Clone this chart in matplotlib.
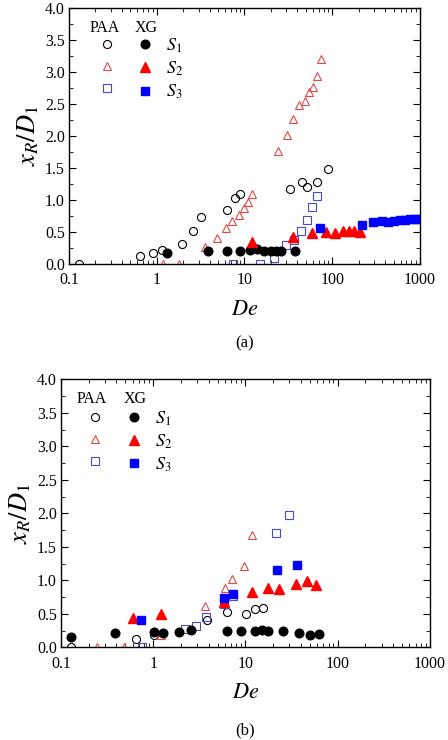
import numpy as np
import matplotlib
matplotlib.use("Agg")
from matplotlib import pyplot as plt
from matplotlib.ticker import MultipleLocator, LogLocator, FixedLocator, NullFormatter

plt.rcParams['font.family'] = ['Liberation Serif', 'DejaVu Serif']
plt.rcParams['mathtext.fontset'] = 'stix'

# ---- panel (a) data ----
a_paa_s1_x = [0.13, 0.64, 0.90, 1.16, 1.92, 2.57, 3.19, 6.4, 7.8, 8.9, 33, 45, 51, 67, 89]
a_paa_s1_y = [0.0, 0.12, 0.18, 0.22, 0.32, 0.52, 0.73, 0.85, 1.03, 1.09, 1.18, 1.28, 1.21, 1.28, 1.48]
a_xg_s1_x = [1.3, 3.86, 6.4, 8.9, 11.6, 14.0, 16.8, 19.9, 22.8, 26.1, 37.6]
a_xg_s1_y = [0.18, 0.20, 0.20, 0.21, 0.22, 0.23, 0.21, 0.20, 0.20, 0.20, 0.20]
a_paa_s2_x = [1.19, 1.79, 3.55, 4.82, 6.1, 7.2, 8.65, 9.86, 11.0, 12.1,
              24.3, 30.3, 36, 41.8, 48.5, 54.3, 60.4, 67, 73.8]
a_paa_s2_y = [0.0, 0.0, 0.27, 0.41, 0.57, 0.67, 0.77, 0.88, 0.97, 1.09,
              1.77, 2.02, 2.26, 2.48, 2.54, 2.69, 2.76, 2.94, 3.21]
a_xg_s2_x = [12.1, 36, 59.3, 84, 107, 131, 155, 177, 207]
a_xg_s2_y = [0.34, 0.42, 0.49, 0.50, 0.49, 0.52, 0.52, 0.52, 0.50]
a_paa_s3_x = [7.45, 15, 21.9, 29.4, 37, 44, 52, 59.3, 66.5]
a_paa_s3_y = [0.0, 0.0, 0.09, 0.29, 0.37, 0.52, 0.69, 0.89, 1.06]
a_xg_s3_x = [72.4, 220, 294, 366, 435, 510, 591, 675, 769, 877, 955]
a_xg_s3_y = [0.56, 0.61, 0.65, 0.67, 0.65, 0.68, 0.69, 0.69, 0.70, 0.70, 0.70]

# ---- panel (b) data ----
b_paa_s1_x = [0.129, 0.645, 1.02, 3.84, 6.37, 10.2, 12.8, 15.5]
b_paa_s1_y = [0.0, 0.12, 0.19, 0.40, 0.52, 0.49, 0.57, 0.59]
b_xg_s1_x = [0.129, 0.385, 1.02, 1.28, 1.91, 2.54, 6.37, 8.87, 12.6, 15.1, 17.7, 25.4, 37.9, 50.3, 63.4]
b_xg_s1_y = [0.16, 0.22, 0.23, 0.22, 0.23, 0.26, 0.25, 0.25, 0.25, 0.26, 0.25, 0.25, 0.22, 0.18, 0.20]
b_paa_s2_x = [0.244, 0.486, 1.21, 3.62, 6.06, 7.2, 9.63, 11.9]
b_paa_s2_y = [0.0, 0.0, 0.18, 0.61, 0.89, 1.02, 1.22, 1.68]
b_xg_s2_x = [0.6, 1.21, 5.85, 11.9, 17.5, 23.4, 34.9, 46.7, 58.4]
b_xg_s2_y = [0.44, 0.49, 0.68, 0.82, 0.88, 0.87, 0.94, 0.99, 0.93]
b_paa_s3_x = [0.75, 2.24, 2.94, 3.78, 5.85, 7.33, 21.6, 29.3]
b_paa_s3_y = [0.0, 0.27, 0.32, 0.45, 0.65, 0.76, 1.70, 1.98]
b_xg_s3_x = [0.74, 5.85, 7.33, 21.9, 36]
b_xg_s3_y = [0.40, 0.74, 0.79, 1.15, 1.23]

red_open = '#e04848'
blue_open = '#4848c8'
ms = 5.8


def draw_panel(ax, d, tag, hdr):
    (p1x, p1y, x1x, x1y, p2x, p2y, x2x, x2y, p3x, p3y, x3x, x3y) = d
    h_o1, = ax.plot(p1x, p1y, 'o', mfc='none', mec='black', mew=0.8, ms=ms, ls='none')
    h_o2, = ax.plot(p2x, p2y, '^', mfc='none', mec=red_open, mew=0.8, ms=ms + 0.6, ls='none')
    h_o3, = ax.plot(p3x, p3y, 's', mfc='none', mec=blue_open, mew=0.8, ms=ms - 0.6, ls='none')
    h_f1, = ax.plot(x1x, x1y, 'o', color='black', ms=ms + 0.4, ls='none')
    h_f2, = ax.plot(x2x, x2y, '^', color='#ff0000', ms=ms + 0.8, ls='none')
    h_f3, = ax.plot(x3x, x3y, 's', color='#0000ff', ms=ms - 0.4, ls='none')

    ax.set_xscale('log')
    ax.set_xlim(0.1, 1000)
    ax.set_ylim(0, 4.0)
    ax.xaxis.set_major_locator(FixedLocator([0.1, 1, 10, 100, 1000]))
    ax.set_xticklabels(['0.1', '1', '10', '100', '1000'])
    ax.xaxis.set_minor_locator(LogLocator(base=10, subs=np.arange(2, 10)))
    ax.xaxis.set_minor_formatter(NullFormatter())
    ax.yaxis.set_major_locator(MultipleLocator(0.5))
    ax.yaxis.set_minor_locator(MultipleLocator(0.25))
    ax.yaxis.set_major_formatter(matplotlib.ticker.FormatStrFormatter('%.1f'))
    ax.tick_params(which='both', direction='in', top=True, right=True, labelsize=11.5)
    ax.tick_params(axis='x', which='major', pad=6)
    ax.tick_params(axis='y', which='major', pad=3)
    ax.tick_params(which='major', length=5)
    ax.tick_params(which='minor', length=2.8)
    for s in ax.spines.values():
        s.set_linewidth(1.0)
    ax.set_xlabel('$De$', fontsize=16, labelpad=9)
    ax.set_ylabel('$x_R/D_1$', fontsize=19, labelpad=3)

    ax.legend([h_o1, h_o2, h_o3, h_f1, h_f2, h_f3],
              ['', '', '', '$S_1$', '$S_2$', '$S_3$'],
              ncol=2, frameon=False, loc='upper left',
              bbox_to_anchor=hdr['anchor'], handlelength=1.0,
              handletextpad=0.65, columnspacing=hdr['colsp'],
              labelspacing=0.27, fontsize=13, borderaxespad=0)
    ax.text(hdr['paa'], hdr['hy'], 'PAA', transform=ax.transAxes, ha='center', va='center', fontsize=11.5)
    ax.text(hdr['xg'], hdr['hy'], 'XG', transform=ax.transAxes, ha='center', va='center', fontsize=11.5)
    ax.text(0.5, tag[1], tag[0], transform=ax.transAxes, ha='center', va='center', fontsize=12)


fig = plt.figure(figsize=(4.48, 7.4), dpi=100)
ax1 = fig.add_axes([0.154, 0.6432, 0.7835, 0.3459])
ax2 = fig.add_axes([0.136, 0.1253, 0.8237, 0.3619])

draw_panel(ax1, (a_paa_s1_x, a_paa_s1_y, a_xg_s1_x, a_xg_s1_y,
                 a_paa_s2_x, a_paa_s2_y, a_xg_s2_x, a_xg_s2_y,
                 a_paa_s3_x, a_paa_s3_y, a_xg_s3_x, a_xg_s3_y),
           ('(a)', -0.31),
           dict(anchor=(0.063, 0.918), colsp=0.45, paa=0.103, xg=0.22, hy=0.922))
draw_panel(ax2, (b_paa_s1_x, b_paa_s1_y, b_xg_s1_x, b_xg_s1_y,
                 b_paa_s2_x, b_paa_s2_y, b_xg_s2_x, b_xg_s2_y,
                 b_paa_s3_x, b_paa_s3_y, b_xg_s3_x, b_xg_s3_y),
           ('(b)', -0.309),
           dict(anchor=(0.049, 0.916), colsp=0.5, paa=0.084, xg=0.2, hy=0.926))

fig.savefig('out.png', dpi=100)
